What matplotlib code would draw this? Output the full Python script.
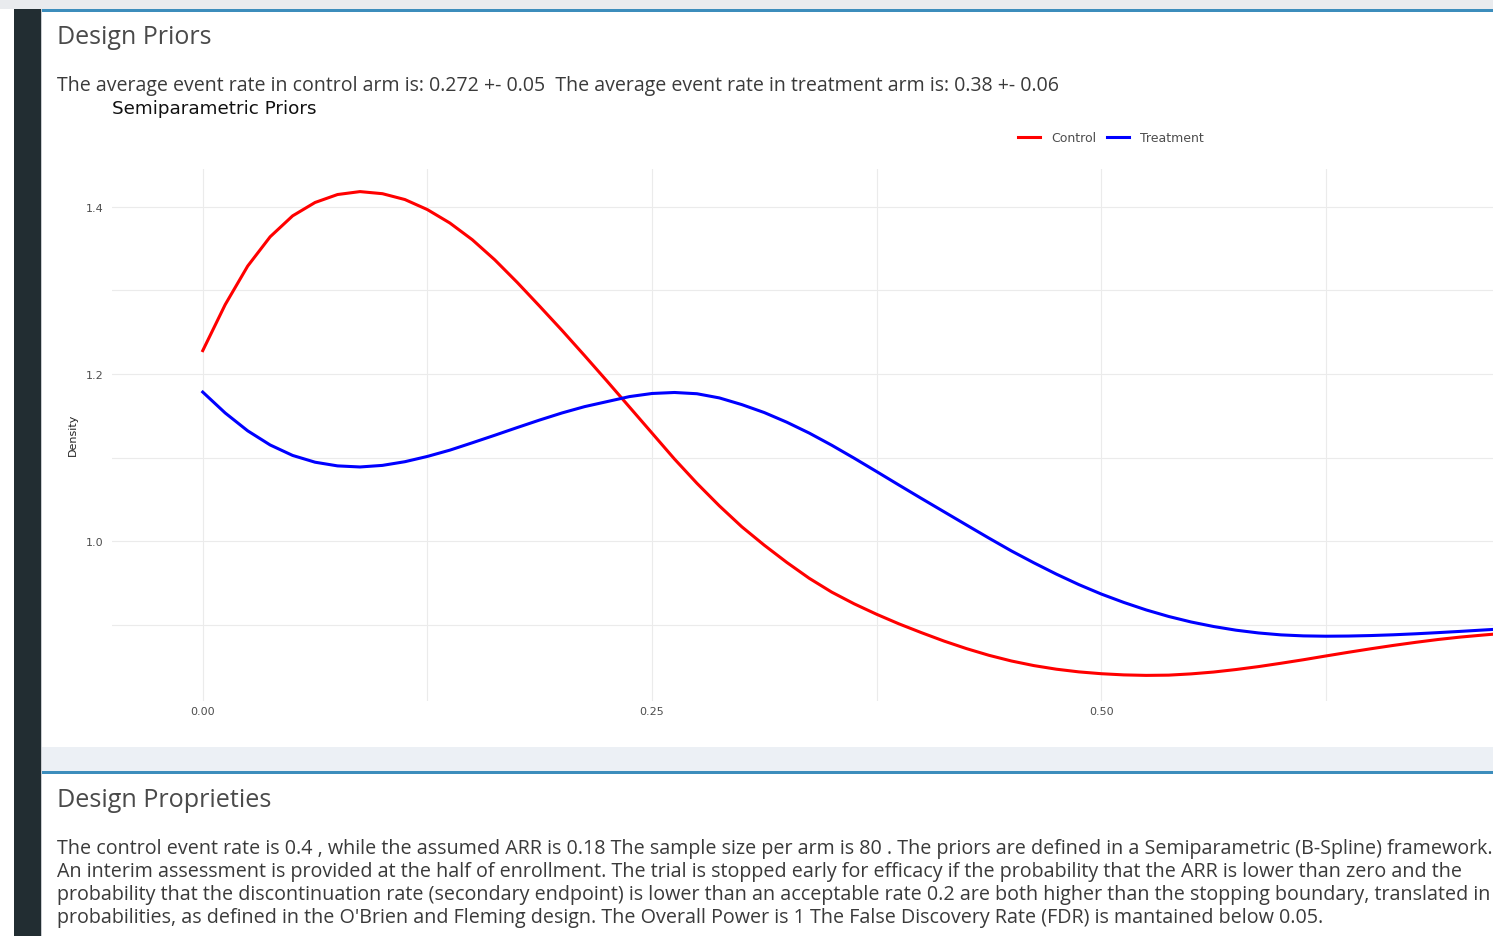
import matplotlib
matplotlib.use("Agg")
import matplotlib.pyplot as plt
from matplotlib.patches import Rectangle
from matplotlib.lines import Line2D

W, H = 1493, 937

# density curves (x step 0.0125)
grid_x = [0.0, 0.0125, 0.025, 0.0375, 0.05, 0.0625, 0.075, 0.0875, 0.1, 0.1125,
          0.125, 0.1375, 0.15, 0.1625, 0.175, 0.1875, 0.2, 0.2125, 0.225, 0.2375,
          0.25, 0.2625, 0.275, 0.2875, 0.3, 0.3125, 0.325, 0.3375, 0.35, 0.3625,
          0.375, 0.3875, 0.4, 0.4125, 0.425, 0.4375, 0.45, 0.4625, 0.475, 0.4875,
          0.5, 0.5125, 0.525, 0.5375, 0.55, 0.5625, 0.575, 0.5875, 0.6, 0.6125,
          0.625, 0.6375, 0.65, 0.6625, 0.675, 0.6875, 0.7, 0.7125, 0.718]

control_y = [1.228, 1.283, 1.329, 1.364, 1.389, 1.405, 1.4145, 1.418, 1.4155, 1.4085,
             1.3965, 1.3805, 1.3605, 1.3365, 1.3095, 1.281, 1.252, 1.222, 1.1915, 1.1605,
             1.1295, 1.0985, 1.0695, 1.0425, 1.0175, 0.9955, 0.975, 0.956, 0.9395, 0.9255,
             0.913, 0.9015, 0.891, 0.881, 0.872, 0.864, 0.8572, 0.8517, 0.8474, 0.8442,
             0.842, 0.8406, 0.840, 0.8403, 0.8418, 0.844, 0.847, 0.8505, 0.8545, 0.8587,
             0.8632, 0.8676, 0.8718, 0.8758, 0.8795, 0.8829, 0.8858, 0.8882, 0.8892]

treat_y = [1.1785, 1.1535, 1.1322, 1.1153, 1.1028, 1.0947, 1.0903, 1.089, 1.0909, 1.0953,
           1.1016, 1.1091, 1.1179, 1.1269, 1.1361, 1.1451, 1.1536, 1.1611, 1.1671, 1.1731,
           1.1768, 1.178, 1.1765, 1.1715, 1.1635, 1.154, 1.1425, 1.1295, 1.115, 1.0995,
           1.0835, 1.0673, 1.0513, 1.0355, 1.0197, 1.004, 0.9887, 0.9745, 0.961, 0.9485,
           0.9372, 0.9272, 0.9182, 0.9104, 0.9038, 0.8984, 0.894, 0.8907, 0.8884, 0.8872,
           0.8868, 0.887, 0.8876, 0.8885, 0.8897, 0.8911, 0.8926, 0.8942, 0.8949]

x_ticks = [0.0, 0.25, 0.5]
x_labels = ["0.00", "0.25", "0.50"]
x_minor = [0.125, 0.375, 0.625]
y_ticks = [1.0, 1.2, 1.4]
y_labels = ["1.0", "1.2", "1.4"]
y_minor = [0.9, 1.1, 1.3]

prior_text = ("The average event rate in control arm is: 0.272 +- 0.05  "
              "The average event rate in treatment arm is: 0.38 +- 0.06")
props_lines = [
    "The control event rate is 0.4 , while the assumed ARR is 0.18 The sample size per arm is 80 . "
    "The priors are defined in a Semiparametric (B-Spline) framework.",
    "An interim assessment is provided at the half of enrollment. The trial is stopped early for "
    "efficacy if the probability that the ARR is lower than zero and the",
    "probability that the discontinuation rate (secondary endpoint) is lower than an acceptable rate "
    "0.2 are both higher than the stopping boundary, translated in",
    "probabilities, as defined in the O'Brien and Fleming design. The Overall Power is 1 "
    "The False Discovery Rate (FDR) is mantained below 0.05.",
]


def fx(x):
    return x / W


def fy(y):
    return 1 - y / H


def box(fig, x0, y0, x1, y1, color):
    fig.add_artist(Rectangle((fx(x0), fy(y1)), fx(x1) - fx(x0), fy(y0) - fy(y1),
                             transform=fig.transFigure, facecolor=color,
                             edgecolor="none", zorder=-5))


def fit(fig, t, width_px):
    # scale font so the text spans the same width as in the screenshot
    bb = t.get_window_extent(fig.canvas.get_renderer())
    t.set_fontsize(t.get_fontsize() * width_px / bb.width)
    return t.get_fontsize()


fig = plt.figure(figsize=(W / 100, H / 100), dpi=100)
fig.patch.set_facecolor("white")

# page furniture
box(fig, 0, 0, W, 10, "#e9ebee")
box(fig, 14, 10, 41, H, "#222d32")
box(fig, 41, 10, 42, H, "#c9ccd0")
box(fig, 42, 10, W, 13, "#3c8dbc")
box(fig, 42, 748, W, 772, "#ecf0f5")
box(fig, 42, 772, W, 775, "#3c8dbc")

body = ["Open Sans", "DejaVu Sans"]
t = fig.text(fx(57), fy(38), "Design Priors", fontsize=16, color="#4a4a4a",
             family=body, va="center", ha="left")
fit(fig, t, 155)
t = fig.text(fx(57), fy(86), prior_text, fontsize=13, color="#3a3a3a",
             family=body, va="center", ha="left")
fit(fig, t, 999)
t = fig.text(fx(112), fy(109), "Semiparametric Priors", fontsize=13, color="#111111",
             family=["DejaVu Sans"], va="center", ha="left")
fit(fig, t, 205)
t = fig.text(fx(57), fy(801), "Design Proprieties", fontsize=16, color="#4a4a4a",
             family=body, va="center", ha="left")
fit(fig, t, 215)
t = fig.text(fx(57), fy(849), props_lines[0], fontsize=13, color="#3a3a3a",
             family=body, va="center", ha="left")
size = fit(fig, t, 1430)
for i, line in enumerate(props_lines[1:]):
    fig.text(fx(57), fy(872 + 23 * i), line, fontsize=size, color="#3a3a3a",
             family=body, va="center", ha="left")

# plot area
ax = fig.add_axes([fx(112), fy(702), fx(1493) - fx(112), fy(170) - fy(702)])
ax.set_facecolor("white")
ax.plot(grid_x, control_y, color="#ff0000", lw=2.2, solid_joinstyle="round",
        label="Control")
ax.plot(grid_x, treat_y, color="#0000ff", lw=2.2, solid_joinstyle="round",
        label="Treatment")

ax.set_xlim(-0.0505, 0.718)
ax.set_ylim(0.8094, 1.445)
ax.set_xticks(x_ticks)
ax.set_xticklabels(x_labels)
ax.set_xticks(x_minor, minor=True)
ax.set_yticks(y_ticks)
ax.set_yticklabels(y_labels)
ax.set_yticks(y_minor, minor=True)
ax.grid(True, which="both", color="#ebebeb", lw=0.8)
ax.set_axisbelow(True)
for s in ax.spines.values():
    s.set_visible(False)
ax.tick_params(which="both", length=0, labelsize=8, labelcolor="#4d4d4d")
ax.tick_params(axis="y", pad=5.8)
ax.tick_params(axis="x", pad=3.6)

ax.set_ylabel("Density", fontsize=8, color="#222222")
ax.yaxis.set_label_coords((78 - 112) / (1493 - 112), 0.502)

handles = [Line2D([], [], color="#ff0000", lw=2.2), Line2D([], [], color="#0000ff", lw=2.2)]
fig.legend(handles, ["Control", "Treatment"], loc="center",
           bbox_to_anchor=(fx(1111), fy(139)), ncol=2, frameon=False,
           fontsize=9, labelcolor="#4d4d4d", handlelength=1.76,
           handletextpad=0.88, columnspacing=0.88)

fig.savefig("out.png", dpi=100)
